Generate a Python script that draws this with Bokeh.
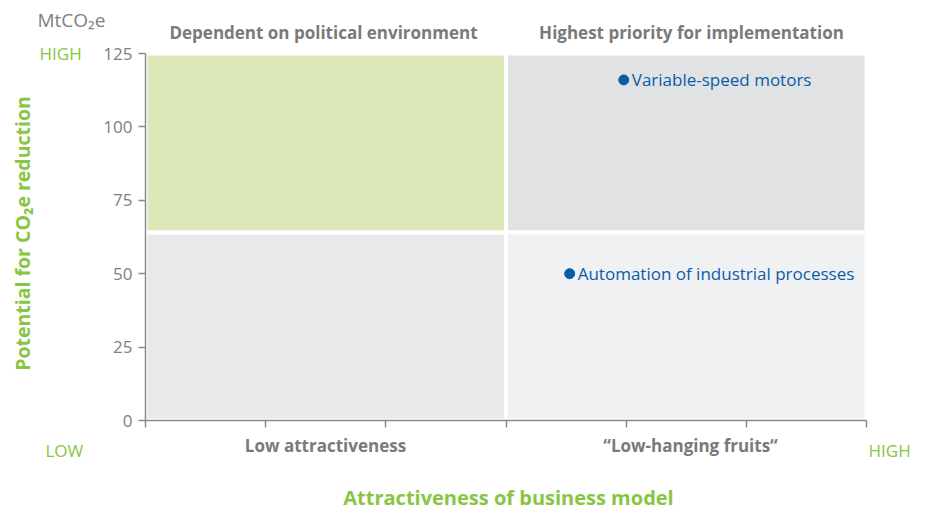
import math
from bokeh.plotting import figure
from bokeh.models import Range1d, ColumnDataSource, Label, LabelSet, FixedTicker, LinearAxis
from bokeh.core.properties import value
from bokeh.embed import file_html
from bokeh.resources import INLINE

# ---- data ----
technologies = ["Variable-speed motors", "Automation of industrial processes"]
attractiveness = [3.98, 3.53]
co2_reduction = [116, 50]

y_ticks = [0, 25, 50, 75, 100, 125]
x_ticks = [0, 1, 2, 3, 4, 5, 6]
x_split = 3
y_split = 64
x_max = 6
y_max = 125

quadrant_names = ["Dependent on political environment", "Highest priority for implementation",
                  "Low attractiveness", "\u201cLow-hanging fruits\u201c"]
quadrant_colors = ["#dde8b9", "#e1e2e4", "#e9e9eb", "#f0f1f3"]

FONT = "Open Sans"
GREEN = "#88c542"
GREY = "#808080"
TGREY = "#7a7a7a"
BLUE = "#0a5ca8"

W, H = 930, 512
X0, X1 = 145, 866   # pixel positions of x=0 and x=x_max
Y0, Y1 = 420, 53    # pixel positions of y=0 and y=y_max
ppx = (X1 - X0) / x_max
ppy = (Y0 - Y1) / y_max

def dx(px):
    return (px - X0) / ppx

def dy(py):
    return (Y0 - py) / ppy

p = figure(width=W, height=H, output_backend="svg", toolbar_location=None,
           x_range=Range1d(dx(0), dx(W)), y_range=Range1d(dy(H), dy(0)),
           x_axis_location=None, y_axis_location=None,
           min_border=0)
p.outline_line_color = None
p.grid.visible = False

# quadrants
q = ColumnDataSource(dict(
    left=[0, x_split, 0, x_split],
    right=[x_split, x_max, x_split, x_max],
    bottom=[y_split, y_split, 0, 0],
    top=[y_max, y_max, y_split, y_split],
    color=quadrant_colors,
))
p.quad(left="left", right="right", bottom="bottom", top="top", source=q,
       fill_color="color", line_color="white", line_width=4)

# axes inside the frame
yax = LinearAxis(fixed_location=0, bounds=(0, y_max), ticker=FixedTicker(ticks=y_ticks))
xax = LinearAxis(fixed_location=0, bounds=(0, x_max), ticker=FixedTicker(ticks=x_ticks))
for ax in (xax, yax):
    ax.axis_line_color = "#8a8a8a"
    ax.axis_line_width = 1.5
    ax.major_tick_line_color = "#8a8a8a"
    ax.major_tick_line_width = 1.5
    ax.minor_tick_line_color = None
    ax.major_tick_in = 0
    ax.major_tick_out = 7
yax.major_label_text_font = FONT
yax.major_label_text_font_size = "17px"
yax.major_label_text_color = GREY
yax.major_label_standoff = 6
xax.major_label_text_font_size = "0px"
xax.major_label_overrides = {t: "" for t in x_ticks}
p.add_layout(yax, "left")
p.add_layout(xax, "below")

# points
src = ColumnDataSource(dict(x=attractiveness, y=co2_reduction, name=technologies))
p.scatter("x", "y", source=src, size=10, color=BLUE)
p.add_layout(LabelSet(x="x", y="y", text="name", source=src, x_offset=8,
                      text_baseline="middle", text_color=BLUE, text_font_size="17px",
                      text_font=value(FONT)))

def lab(px, py, text, color, size, bold=False, align="center", angle=0):
    p.add_layout(Label(x=dx(px), y=dy(py), text=text, text_color=color, text_font=FONT,
                       text_font_size=size, text_font_style="bold" if bold else "normal",
                       text_align=align, text_baseline="middle", angle=angle))

# quadrant titles
lab(323, 32, quadrant_names[0], TGREY, "17px", bold=True)
lab(691, 32, quadrant_names[1], TGREY, "17px", bold=True)
lab(325, 445, quadrant_names[2], TGREY, "17px", bold=True)
lab(690, 445, quadrant_names[3], TGREY, "17px", bold=True)

# unit, high/low markers
lab(37, 19, "MtCO\u2082e", GREY, "19px", align="left")
lab(39, 53, "HIGH", GREEN, "17px", align="left")
lab(45, 450, "LOW", GREEN, "17px", align="left")
lab(868, 450, "HIGH", GREEN, "17px", align="left")

# axis titles
lab(22, 233, "Potential for CO\u2082e reduction", GREEN, "19.5px", bold=True, angle=math.pi / 2)
lab(508, 497, "Attractiveness of business model", GREEN, "20px", bold=True)

open("out.html", "w").write(file_html(p, INLINE))
